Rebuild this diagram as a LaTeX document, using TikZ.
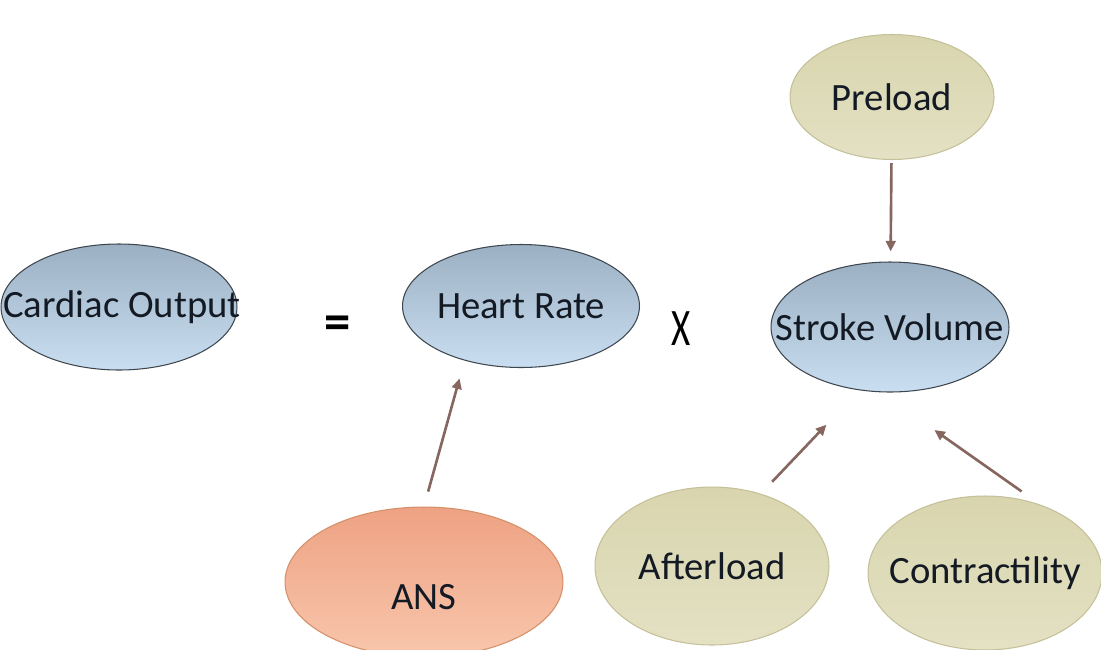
\documentclass[tikz,border=0pt]{standalone}
\usepackage{fontspec}
\setmainfont{Carlito}
\usetikzlibrary{shapes.geometric,arrows.meta}

\definecolor{bluetop}{HTML}{9BB0C3}
\definecolor{bluebot}{HTML}{C9DEF1}
\definecolor{bluerim}{HTML}{3E464E}
\definecolor{beigetop}{HTML}{D8D5AE}
\definecolor{beigebot}{HTML}{E4E1C4}
\definecolor{beigerim}{HTML}{C4C09A}
\definecolor{anstop}{HTML}{EEA283}
\definecolor{ansbot}{HTML}{F8C6AC}
\definecolor{ansrim}{HTML}{D49068}
\definecolor{arrowbrown}{HTML}{86665F}
\definecolor{inktext}{HTML}{141A24}

\tikzset{
  bub/.style={ellipse, inner sep=0pt, line width=0.6pt},
  bluebub/.style={bub, draw=bluerim, top color=bluetop, bottom color=bluebot},
  beigebub/.style={bub, draw=beigerim, top color=beigetop, bottom color=beigebot},
  ansbub/.style={bub, draw=ansrim, top color=anstop, bottom color=ansbot},
  lbl/.style={font=\fontsize{22}{26}\selectfont, text=inktext},
  op/.style={font=\fontsize{30}{36}\selectfont, text=black},
  arr/.style={-{Triangle[length=6pt,width=5.5pt]}, draw=arrowbrown, fill=arrowbrown, line width=1.5pt}
}

\begin{document}
\begin{tikzpicture}[x=0.02cm, y=-0.02cm]
  \useasboundingbox (0,0) rectangle (1101,649);

  % Equation row
  \node[bluebub, minimum width=4.72cm, minimum height=2.52cm,
        label={[lbl, xshift=0.06cm]center:Cardiac Output}] (co) at (119,307) {};
  \node[op] (eq) at (338,328) {\textbf{=}};
  \node[bluebub, minimum width=4.74cm, minimum height=2.46cm,
        label={[lbl]center:Heart Rate}] (hr) at (521,306) {};
  \node[op] (times) at (681,329) {\scalebox{0.7}[1]{X}};
  \node[bluebub, minimum width=4.76cm, minimum height=2.6cm,
        label={[lbl]center:Stroke Volume}] (sv) at (890,327) {};

  % Factors
  \node[beigebub, minimum width=4.08cm, minimum height=2.5cm,
        label={[lbl]center:Preload}] (pl) at (892,97) {};
  \node[ansbub, minimum width=5.56cm, minimum height=3.0cm,
        label={[lbl, yshift=-0.3cm]center:ANS}] (ans) at (424,582) {};
  \node[beigebub, minimum width=4.68cm, minimum height=3.16cm,
        label={[lbl]center:Afterload}] (al) at (712,566) {};
  \node[beigebub, minimum width=4.68cm, minimum height=3.08cm,
        label={[lbl]center:Contractility}] (ct) at (985,573) {};

  % Influences
  \draw[arr, shorten <=0.06cm, shorten >=0.2cm] (pl) -- (sv);
  \draw[arr, shorten <=0.31cm, shorten >=0.37cm] (ans.north) -- (hr.224);
  \draw[arr, shorten <=0.33cm, shorten >=0.95cm] (al.56) -- (sv.244);
  \draw[arr, shorten <=0.46cm, shorten >=1.31cm] (ct.51) -- (sv.262);
\end{tikzpicture}
\end{document}
